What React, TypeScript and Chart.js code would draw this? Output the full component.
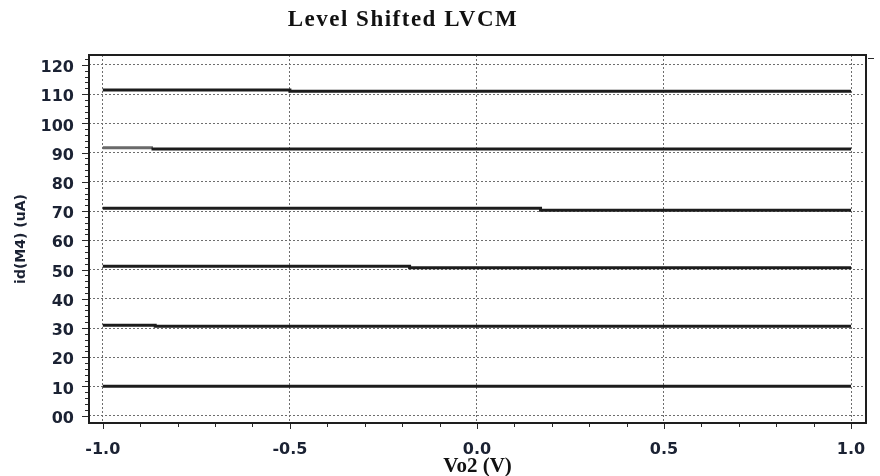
import React, { useEffect, useRef } from "react";
import { Chart, registerables } from "chart.js";

Chart.register(...registerables);

const CHART_TITLE = "Level Shifted LVCM";
const X_TITLE = "Vo2 (V)";
const Y_TITLE = "id(M4) (uA)";

const X_TICKS = [-1, -0.5, 0, 0.5, 1];
const X_TICK_LABELS = ["-1.0", "-0.5", "0.0", "0.5", "1.0"];
const Y_TICKS = [0, 10, 20, 30, 40, 50, 60, 70, 80, 90, 100, 110, 120];
const Y_TICK_LABELS = ["00", "10", "20", "30", "40", "50", "60", "70", "80", "90", "100", "110", "120"];

// Each curve: Vo2 breakpoints (V) and drain current (uA) held until the next breakpoint
const vo2_110 = [-1, -0.5, 1];
const id_110 = [111.4, 111.0, 111.0];
const vo2_90 = [-1, -0.87, 1];
const id_90 = [91.7, 91.2, 91.2];
const vo2_70 = [-1, 0.17, 1];
const id_70 = [71.0, 70.3, 70.3];
const vo2_50 = [-1, -0.18, 1];
const id_50 = [51.1, 50.6, 50.6];
const vo2_30 = [-1, -0.86, 1];
const id_30 = [30.9, 30.6, 30.6];
const vo2_10 = [-1, 1];
const id_10 = [10.1, 10.1];

const SERIES = [
  { x: vo2_110, y: id_110 },
  { x: vo2_90, y: id_90 },
  { x: vo2_70, y: id_70 },
  { x: vo2_50, y: id_50 },
  { x: vo2_30, y: id_30 },
  { x: vo2_10, y: id_10 },
];

const MINOR_Y_STEP = 2;
const MINOR_X_STEP = 0.1;

const framePlugin = {
  id: "frameAndMinorTicks",
  afterDraw(chart: any) {
    const { ctx, chartArea: a, scales } = chart;
    const xs = scales.x;
    const ys = scales.y;
    ctx.save();
    ctx.strokeStyle = "#2a2a2a";
    ctx.lineWidth = 1;
    ctx.beginPath();
    for (let k = 0; k <= 61; k++) {
      const v = k * MINOR_Y_STEP;
      const y = Math.round(ys.getPixelForValue(v)) + 0.5;
      const len = v % 10 === 0 ? 7 : 4;
      ctx.moveTo(a.left - len, y);
      ctx.lineTo(a.left, y);
    }
    for (let k = 0; k <= 20; k++) {
      const v = -1 + k * MINOR_X_STEP;
      const x = Math.round(xs.getPixelForValue(v)) + 0.5;
      const len = k % 5 === 0 ? 6 : 4;
      ctx.moveTo(x, a.bottom);
      ctx.lineTo(x, a.bottom + len);
    }
    // small mark outside the top-right corner
    ctx.moveTo(a.right + 2, a.top + 3.5);
    ctx.lineTo(a.right + 8, a.top + 3.5);
    ctx.stroke();
    ctx.strokeStyle = "#1e1e1e";
    ctx.lineWidth = 2;
    ctx.strokeRect(a.left, a.top, a.right - a.left, a.bottom - a.top);
    ctx.restore();
  },
};

export default function App() {
  const canvasRef = useRef<HTMLCanvasElement | null>(null);

  useEffect(() => {
    const canvas = canvasRef.current;
    if (!canvas) return;
    const chart = new Chart(canvas, {
      type: "line",
      data: {
        datasets: SERIES.map((s, i) => ({
          label: "I" + i,
          data: s.x.map((x, j) => ({ x, y: s.y[j] })),
          borderColor: "#1c1c1c",
          borderWidth: 3,
          pointRadius: 0,
          stepped: true,
          fill: false,
          segment:
            i === 1
              ? { borderColor: (c: any) => (c.p0DataIndex === 0 ? "#6a6a6a" : "#1c1c1c") }
              : undefined,
        })),
      },
      options: {
        animation: false,
        responsive: false,
        devicePixelRatio: 1,
        layout: { padding: { top: 55, right: 14, bottom: 0, left: 0 } },
        plugins: {
          legend: { display: false },
          tooltip: { enabled: false },
          title: { display: false },
        },
        scales: {
          x: {
            type: "linear",
            min: -1.037,
            max: 1.04,
            afterBuildTicks: (scale: any) => {
              scale.ticks = X_TICKS.map((v) => ({ value: v }));
            },
            afterFit: (scale: any) => {
              scale.height = 53;
              scale.paddingLeft = 0;
              scale.paddingRight = 0;
            },
            grid: { color: "#6e6e6e", lineWidth: 1, drawTicks: false },
            border: { display: false, dash: [2, 2] },
            ticks: {
              padding: 17,
              maxRotation: 0,
              autoSkip: false,
              color: "#1b2233",
              font: { family: "'DejaVu Sans', sans-serif", weight: "bold", size: 16 },
              callback: (v: any) => X_TICK_LABELS[X_TICKS.indexOf(Number(v))] ?? "",
            },
            title: {
              display: true,
              text: X_TITLE,
              color: "#111",
              padding: { top: 0, bottom: -3 },
              font: { family: "'Liberation Serif', serif", weight: "bold", size: 21 },
            },
          },
          y: {
            type: "linear",
            min: -2.5,
            max: 123.4,
            afterBuildTicks: (scale: any) => {
              scale.ticks = Y_TICKS.map((v) => ({ value: v }));
            },
            afterFit: (scale: any) => {
              scale.width = 89;
              scale.paddingTop = 0;
              scale.paddingBottom = 0;
            },
            grid: { color: "#6e6e6e", lineWidth: 1, drawTicks: false },
            border: { display: false, dash: [2, 2] },
            ticks: {
              padding: 15,
              labelOffset: 3,
              autoSkip: false,
              color: "#1b2233",
              font: { family: "'DejaVu Sans', sans-serif", weight: "bold", size: 16 },
              callback: (v: any) => Y_TICK_LABELS[Y_TICKS.indexOf(Number(v))] ?? "",
            },
            title: {
              display: true,
              text: Y_TITLE,
              color: "#1b2233",
              padding: { top: 13, bottom: 0 },
              font: { family: "'DejaVu Sans', sans-serif", weight: "bold", size: 14 },
            },
          },
        },
      },
      plugins: [framePlugin],
    } as any);
    return () => chart.destroy();
  }, []);

  return (
    <div
      style={{
        position: "absolute",
        left: 0,
        top: 0,
        width: 880,
        height: 476,
        background: "#ffffff",
      }}
    >
      <div
        style={{
          position: "absolute",
          left: 0,
          top: 6,
          width: 806,
          textAlign: "center",
          fontFamily: "'Liberation Serif', serif",
          fontWeight: "bold",
          fontSize: 23,
          lineHeight: "26px",
          letterSpacing: "1.5px",
          color: "#111",
        }}
      >
        {CHART_TITLE}
      </div>
      <canvas ref={canvasRef} width={880} height={476} style={{ display: "block" }} />
    </div>
  );
}
